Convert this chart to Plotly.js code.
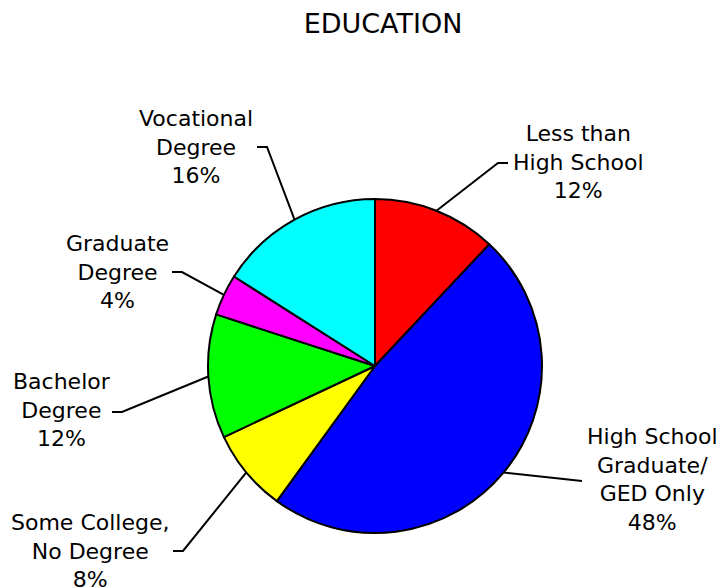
<!DOCTYPE html>
<html>
<head>
<meta charset="utf-8">
<script src="https://cdn.plot.ly/plotly-3.0.1.min.js"></script>
<style>html,body{margin:0;padding:0;background:#fff;}#chart{width:722px;height:588px;}</style>
</head>
<body>
<div id="chart"></div>
<script>
// Data
const categories = ["Less than High School", "High School Graduate/GED Only", "Some College, No Degree", "Bachelor Degree", "Graduate Degree", "Vocational Degree"];
const labelText = ["Less than<br>High School", "High School<br>Graduate/<br>GED Only", "Some College,<br>No Degree", "Bachelor<br>Degree", "Graduate<br>Degree", "Vocational<br>Degree"];
const values = [12, 48, 8, 12, 4, 16];
const colors = ["#ff0000", "#0000ff", "#ffff00", "#00ff00", "#ff00ff", "#00ffff"];

// Layout (pixels)
const W = 722, H = 588;
const cx = 375, cy = 366, R = 167;
// label block centers and leader elbow/end points
const labelPos = [[578,162],[652,479],[90,551],[62,410],[117,272],[196,147]];
const elbows = [[[498,163],[508,163]], [[582,481]], [[183,551],[173,551]], [[122,412],[112,412]], [[182,272],[172,272]], [[267,147],[257,147]]];

const px = x => x / W, py = y => 1 - y / H;
const total = values.reduce((a,b)=>a+b,0);
const shapes = [], annotations = [];
let cum = 0;
values.forEach((v,i) => {
  const mid = (cum + v/2) / total * 2 * Math.PI; cum += v;
  const sx = cx + R * Math.sin(mid), sy = cy - R * Math.cos(mid);
  let path = `M ${px(sx)} ${py(sy)}`;
  elbows[i].forEach(p => { path += ` L ${px(p[0])} ${py(p[1])}`; });
  shapes.push({type:'path', xref:'paper', yref:'paper', path, line:{color:'#000', width:2}});
  annotations.push({xref:'paper', yref:'paper', x:px(labelPos[i][0]), y:py(labelPos[i][1]),
    xanchor:'center', yanchor:'middle', showarrow:false, align:'center',
    text: labelText[i] + '<br>' + Math.round(v/total*100) + '%',
    font:{family:'DejaVu Sans, Verdana, sans-serif', size:22, color:'#000'}});
});

const trace = {
  type:'pie', labels:categories, values:values, sort:false, direction:'clockwise', rotation:0,
  marker:{colors:colors, line:{color:'#000', width:2}},
  textinfo:'none', hoverinfo:'label+percent',
  domain:{x:[(cx-R)/W, (cx+R)/W], y:[1-(cy+R)/H, 1-(cy-R)/H]}
};

const layout = {
  width:W, height:H, margin:{l:0,r:0,t:0,b:0}, showlegend:false,
  paper_bgcolor:'#fff', plot_bgcolor:'#fff',
  title:{text:'EDUCATION', x:383/W, xanchor:'center', y:1-24/H, yanchor:'middle', yref:'container',
    font:{family:'DejaVu Sans, Verdana, sans-serif', size:27, color:'#000'}},
  shapes, annotations
};
Plotly.newPlot('chart', [trace], layout, {displayModeBar:false, staticPlot:true});
</script>
</body>
</html>
